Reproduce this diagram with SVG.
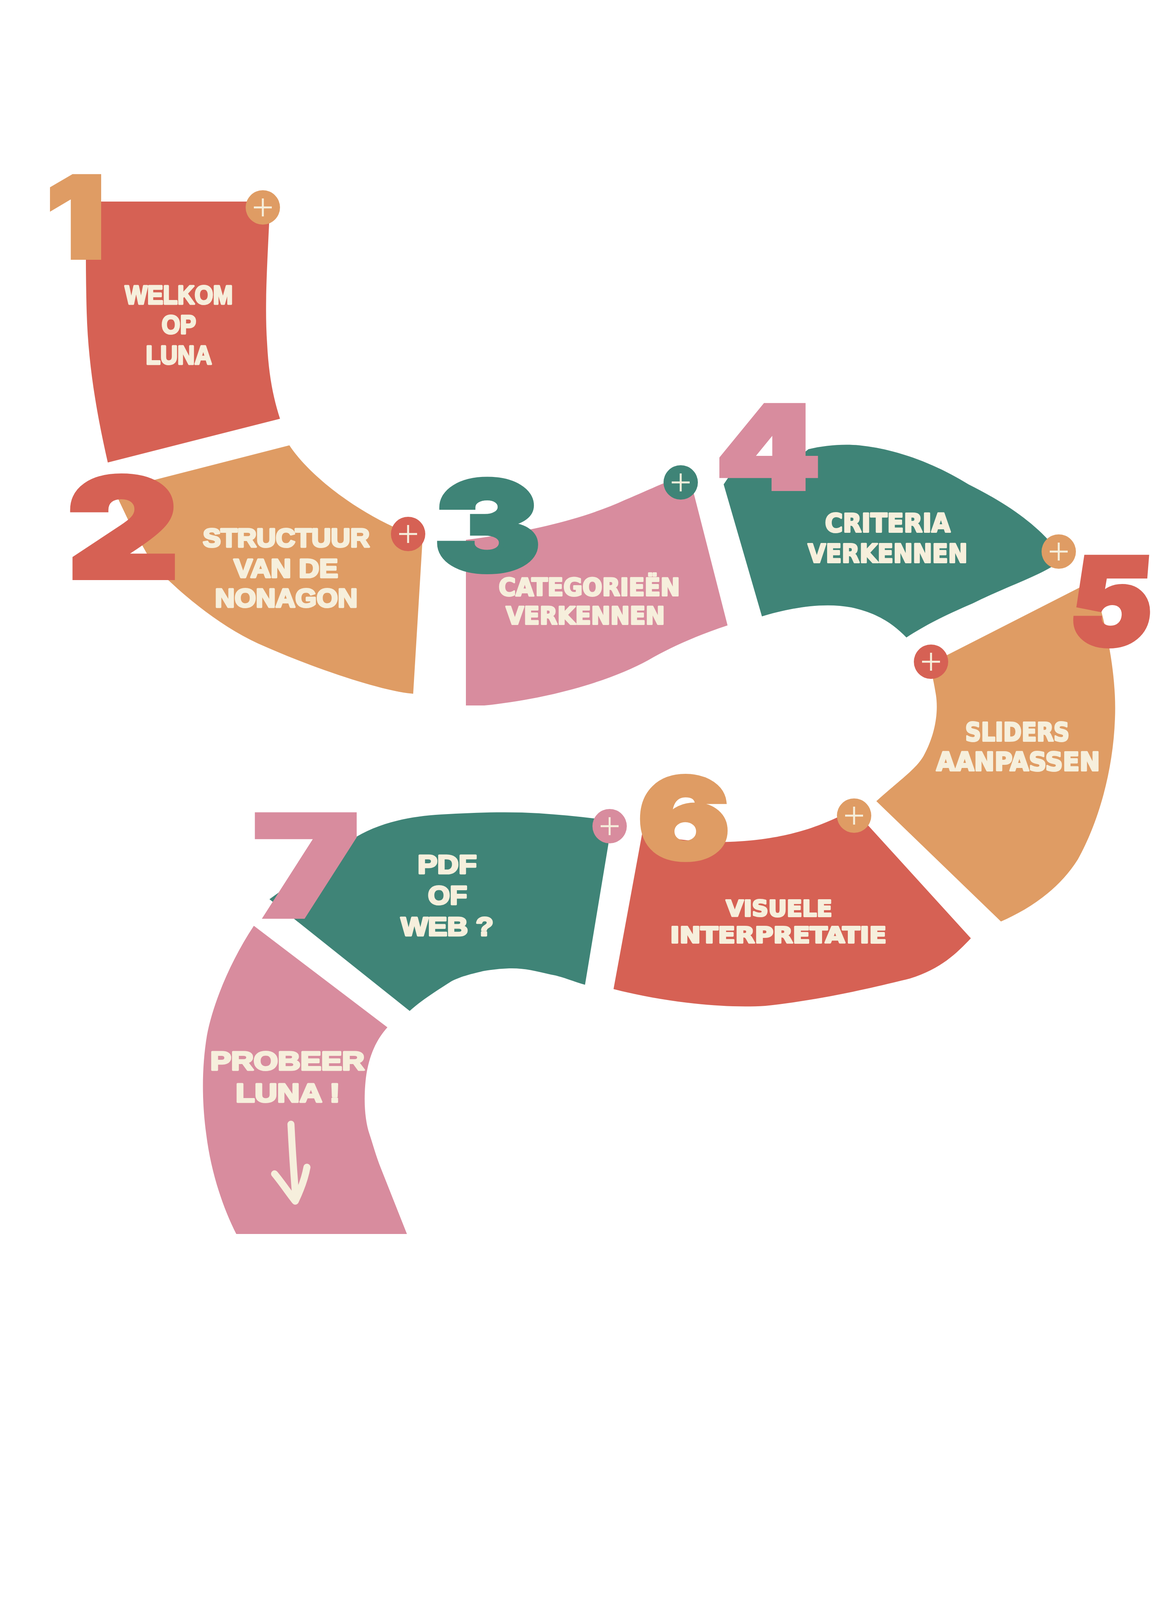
<svg xmlns="http://www.w3.org/2000/svg" width="2978" height="4210" viewBox="0 0 2978 4210">
<style>
.red{fill:#D66154}
.ora{fill:#DF9C64}
.teal{fill:#3F8477}
.pink{fill:#D88C9E}
.num{font-family:Inter,'Noto Sans','Liberation Sans',sans-serif;font-weight:900;text-anchor:middle;stroke-width:12;stroke-linejoin:miter}
.wide{font-family:'Liberation Sans',Arial,sans-serif;font-weight:bold;font-size:67px;fill:#F6EFDC;stroke:#F6EFDC;stroke-width:5;stroke-linejoin:round;text-anchor:middle}
.cond{font-family:'DejaVu Sans Condensed','DejaVu Sans',sans-serif;font-weight:bold;fill:#F6EFDC;stroke:#F6EFDC;stroke-width:4;stroke-linejoin:round;text-anchor:middle}
.plus{stroke:#F6EFDC;stroke-width:5;fill:none}
</style>
<defs>
<g id="pl"><path class="plus" d="M-23,0H23M0,-23V23"/></g>
</defs>
<rect width="2978" height="4210" fill="#FFFFFF"/>
<g id="connectors"/>

<g id="node1">
<path class="red" d="M220,516 L689,516 L689,574 C683,700 678,790 684,880 C688,960 700,1020 717,1072 L276,1184 C250,1070 226,940 222,800 C219,700 220,600 220,516 Z"/>
<circle class="ora" cx="673" cy="531" r="44"/><use href="#pl" x="673" y="531"/>
<text class="num" x="194" y="659" font-size="285" fill="#DF9C64" stroke="#DF9C64" transform="matrix(1.14,0,0,1,-27.16,0)">1</text>
<text class="wide" x="458" y="778" textLength="276" lengthAdjust="spacingAndGlyphs">WELKOM</text>
<text class="wide" x="458" y="854" textLength="88" lengthAdjust="spacingAndGlyphs">OP</text>
<text class="wide" x="458" y="932" textLength="169" lengthAdjust="spacingAndGlyphs">LUNA</text>
</g>

<g id="node2">
<path class="ora" d="M292,1255 L741,1140 C780,1200 880,1290 1010,1350 L1082,1380 L1058,1776 C980,1770 800,1710 660,1647 C580,1610 500,1550 433,1487 L400,1460 L330,1335 Z"/>
<circle class="red" cx="1045" cy="1367" r="44"/><use href="#pl" x="1045" y="1367"/>
<text class="num" x="315" y="1479" font-size="354" fill="#D66154" stroke="#D66154" transform="matrix(1.25,0,0,1,-78.75,0)">2</text>
<text class="wide" x="733" y="1400" textLength="427" lengthAdjust="spacingAndGlyphs">STRUCTUUR</text>
<text class="wide" x="732" y="1478" textLength="267" lengthAdjust="spacingAndGlyphs">VAN DE</text>
<text class="wide" x="733" y="1554" textLength="365" lengthAdjust="spacingAndGlyphs">NONAGON</text>
</g>

<g id="node3">
<path class="pink" d="M1193,1382 C1330,1365 1480,1335 1600,1280 C1660,1255 1700,1235 1740,1222 L1766,1222 L1863,1601 C1790,1625 1720,1655 1660,1690 C1560,1745 1400,1790 1240,1806 L1193,1806 Z"/>
<circle class="teal" cx="1743" cy="1235" r="44"/><use href="#pl" x="1743" y="1235"/>
<text class="num" x="1248" y="1461" font-size="318" fill="#3F8477" stroke="#3F8477" transform="matrix(1.28,0,0,1,-349.44,0)">3</text>
<text class="cond" x="1509" y="1525" font-size="62" textLength="464" lengthAdjust="spacingAndGlyphs">CATEGORIEËN</text>
<text class="cond" x="1499" y="1598" font-size="62" textLength="407" lengthAdjust="spacingAndGlyphs">VERKENNEN</text>
</g>

<g id="node4">
<path class="teal" d="M1853,1240 L1872,1212 L2020,1190 L2070,1150 C2110,1140 2160,1136 2200,1140 C2300,1150 2400,1190 2480,1240 C2580,1290 2650,1340 2700,1400 L2711,1440 C2650,1480 2580,1500 2490,1545 C2420,1575 2370,1600 2321,1632 C2290,1600 2250,1570 2180,1555 C2100,1540 2010,1560 1951,1578 Z"/>
<circle class="ora" cx="2711" cy="1412" r="44"/><use href="#pl" x="2711" y="1412"/>
<text class="num" x="1967" y="1251" font-size="293" fill="#D88C9E" stroke="#D88C9E" transform="matrix(1.29,0,0,1,-570.43,0)">4</text>
<text class="cond" x="2273" y="1362" font-size="66" textLength="321" lengthAdjust="spacingAndGlyphs">CRITERIA</text>
<text class="cond" x="2273" y="1440" font-size="66" textLength="409" lengthAdjust="spacingAndGlyphs">VERKENNEN</text>
</g>

<g id="node5">
<path class="ora" d="M2380,1700 L2798,1487 C2830,1590 2860,1720 2855,1840 C2850,1980 2810,2110 2760,2200 C2710,2280 2630,2330 2563,2359 L2244,2051 C2300,2000 2345,1970 2365,1935 C2395,1880 2405,1820 2395,1770 C2390,1740 2385,1720 2380,1700 Z"/>
<circle class="red" cx="2384" cy="1694" r="44"/><use href="#pl" x="2384" y="1694"/>
<text class="num" x="2838" y="1651" font-size="309" fill="#D66154" stroke="#D66154" transform="matrix(1.02,0,-0.08,1,75.32,0)">5</text>
<text class="cond" x="2605" y="1897" font-size="65" textLength="267" lengthAdjust="spacingAndGlyphs">SLIDERS</text>
<text class="cond" x="2607" y="1973" font-size="65" textLength="419" lengthAdjust="spacingAndGlyphs">AANPASSEN</text>
</g>

<g id="node6">
<path class="red" d="M1571,2532 L1645,2130 C1720,2150 1800,2158 1870,2155 C1950,2152 2010,2140 2060,2125 C2110,2110 2150,2090 2180,2075 L2222,2112 L2486,2402 C2450,2440 2410,2480 2330,2505 C2230,2530 2100,2560 1960,2575 C1850,2582 1700,2565 1571,2532 Z"/>
<circle class="ora" cx="2187" cy="2088" r="44"/><use href="#pl" x="2187" y="2088"/>
<text class="num" x="1751" y="2198" font-size="286" fill="#DF9C64" stroke="#DF9C64" transform="matrix(1.21,0,0,1,-367.71,0)">6</text>
<text class="cond" x="1995" y="2346" font-size="57" textLength="272" lengthAdjust="spacingAndGlyphs">VISUELE</text>
<text class="cond" x="1993" y="2414" font-size="57" textLength="554" lengthAdjust="spacingAndGlyphs">INTERPRETATIE</text>
</g>

<g id="node7">
<path class="teal" d="M690,2302 L900,2150 C960,2110 1040,2090 1130,2085 C1220,2080 1300,2077 1380,2082 C1440,2086 1500,2092 1560,2100 L1558,2160 L1498,2521 C1460,2510 1440,2500 1411,2495 C1370,2485 1340,2478 1304,2479 C1280,2480 1260,2482 1237,2486 C1200,2495 1180,2500 1156,2512 C1120,2535 1080,2560 1049,2588 Z"/>
<circle class="pink" cx="1561" cy="2115" r="44"/><use href="#pl" x="1561" y="2115"/>
<text class="num" x="783" y="2346" font-size="358" fill="#D88C9E" stroke="#D88C9E" transform="matrix(1.27,0,0,1,-211.41,0)">7</text>
<text class="wide" x="1145" y="2236" textLength="151" lengthAdjust="spacingAndGlyphs">PDF</text>
<text class="wide" x="1146" y="2315" textLength="100" lengthAdjust="spacingAndGlyphs">OF</text>
<text class="wide" x="1145" y="2395" textLength="237" lengthAdjust="spacingAndGlyphs">WEB ?</text>
</g>

<g id="node8">
<path class="pink" d="M650,2370 L992,2630 C965,2660 945,2700 937,2759 C930,2820 935,2870 946,2903 C955,2930 963,2960 975,2990 L1042,3159 L605,3159 C570,3090 540,3000 528,2903 C518,2830 515,2740 530,2650 C545,2570 590,2460 650,2370 Z"/>
<text class="wide" x="736" y="2739" textLength="395" lengthAdjust="spacingAndGlyphs">PROBEER</text>
<text class="wide" x="737" y="2821" textLength="267" lengthAdjust="spacingAndGlyphs">LUNA !</text>
<g fill="none" stroke="#F6EFDC" stroke-width="18" stroke-linecap="round" stroke-linejoin="round">
<path d="M745,2878 C748,2940 752,3000 757,3062"/>
<path d="M703,3005 C720,3025 740,3055 756,3075 C768,3050 780,3020 786,2988"/>
</g>
</g>
</svg>
